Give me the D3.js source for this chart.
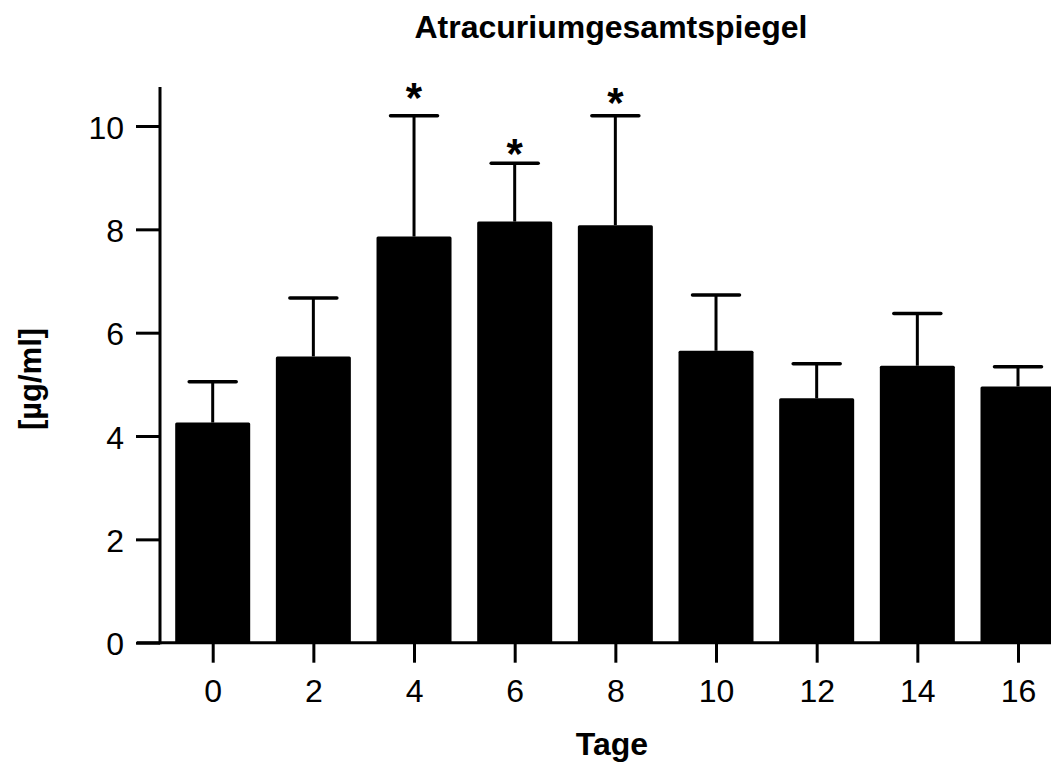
<!DOCTYPE html>
<html>
<head>
<meta charset="utf-8">
<script src="https://cdn.jsdelivr.net/npm/d3@7"></script>
<style>
  body { margin: 0; background: #fff; overflow: hidden; }
  text { font-family: "Liberation Sans", Arial, sans-serif; fill: #000; }
</style>
</head>
<body>
<div id="chart"></div>
<script>
// data
const days = ["0", "2", "4", "6", "8", "10", "12", "14", "16"];
const means = [4.26, 5.54, 7.86, 8.15, 8.08, 5.65, 4.73, 5.36, 4.96];
const errTops = [5.05, 6.67, 10.20, 9.28, 10.20, 6.73, 5.40, 6.37, 5.34];
// asterisk height in data units, null = not significant
const stars = [null, null, 10.64, 9.55, 10.54, null, null, null, null];
const yTicks = [0, 2, 4, 6, 8, 10];

const width = 1051;
const height = 767;

const svg = d3.select("#chart")
  .append("svg")
  .attr("width", width)
  .attr("height", height);

const x = d3.scalePoint()
  .domain(days)
  .range([212.7, 1018]);

const barW = 75;

const y = d3.scaleLinear()
  .domain([0, 10])
  .range([642.7, 126]);

// bars
svg.selectAll(".bar")
  .data(days)
  .enter().append("rect")
  .attr("class", "bar")
  .attr("x", d => x(d) - barW / 2)
  .attr("y", (d, i) => y(means[i]))
  .attr("width", barW)
  .attr("height", (d, i) => y(0) - y(means[i]))
  .attr("rx", 1.5)
  .attr("fill", "#000");

// error bars (upper only)
svg.selectAll(".err")
  .data(days)
  .enter().append("line")
  .attr("x1", d => x(d))
  .attr("x2", d => x(d))
  .attr("y1", (d, i) => y(means[i]))
  .attr("y2", (d, i) => y(errTops[i]))
  .attr("stroke", "#000")
  .attr("stroke-width", 3);

svg.selectAll(".cap")
  .data(days)
  .enter().append("line")
  .attr("x1", d => x(d) - 23.5)
  .attr("x2", d => x(d) + 23.5)
  .attr("y1", (d, i) => y(errTops[i]))
  .attr("y2", (d, i) => y(errTops[i]))
  .attr("stroke", "#000")
  .attr("stroke-width", 3.5)
  .attr("stroke-linecap", "round");

// significance asterisks
svg.selectAll(".star")
  .data(days.filter((d, i) => stars[i] != null))
  .enter().append("text")
  .attr("x", d => x(d))
  .attr("y", d => y(stars[days.indexOf(d)]) + 19)
  .attr("text-anchor", "middle")
  .style("font-size", "42px")
  .style("font-weight", "bold")
  .text("*");

// y axis
const yAxis = svg.append("g")
  .attr("transform", "translate(160,0)")
  .call(d3.axisLeft(y).tickValues(yTicks).tickSize(24).tickPadding(12).tickSizeOuter(0));
yAxis.select(".domain").attr("d", `M0,${y(0) + 1.5}V87`);
yAxis.selectAll(".tick text").attr("dy", "0.38em");

// x axis
const xAxis = svg.append("g")
  .attr("transform", `translate(0,${y(0)})`)
  .call(d3.axisBottom(x).tickSize(20).tickPadding(17).tickSizeOuter(0));
xAxis.select(".domain").attr("d", "M137,0H1060");

svg.selectAll(".domain, .tick line")
  .attr("stroke", "#000")
  .attr("stroke-width", 3);
svg.selectAll(".tick text")
  .style("font-size", "32px")
  .attr("fill", "#000");

// labels
svg.append("text")
  .attr("x", 611)
  .attr("y", 37.5)
  .attr("text-anchor", "middle")
  .style("font-size", "32px")
  .style("font-weight", "bold")
  .text("Atracuriumgesamtspiegel");

svg.append("text")
  .attr("x", 612)
  .attr("y", 755)
  .attr("text-anchor", "middle")
  .style("font-size", "32px")
  .style("font-weight", "bold")
  .text("Tage");

svg.append("text")
  .attr("transform", "translate(41,379) rotate(-90)")
  .attr("text-anchor", "middle")
  .style("font-size", "31px")
  .style("font-weight", "bold")
  .text("[µg/ml]");
</script>
</body>
</html>
